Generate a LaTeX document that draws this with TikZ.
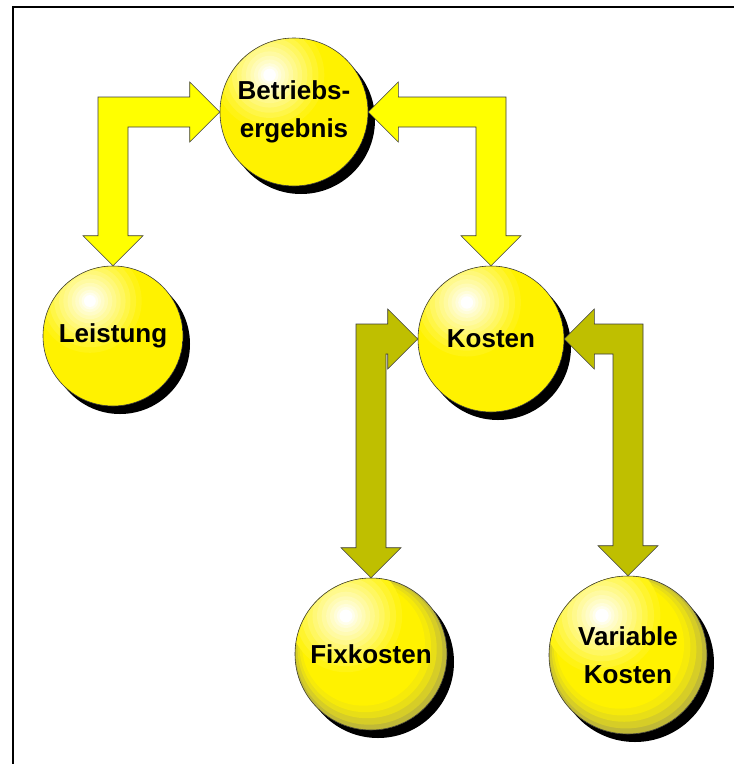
\documentclass[tikz,border=0pt]{standalone}
\usepackage{fontspec}
\setmainfont{Liberation Sans}
\usetikzlibrary{calc}

\definecolor{arrowyellow}{RGB}{255,255,0}
\definecolor{arrowolive}{RGB}{191,191,0}
\definecolor{edgegray}{RGB}{60,60,60}

% one ring of the light spot of the ball at #1 with radius #2:
% ring radius factor #3, yellow share #4
\newcommand\shinering[4]{%
  \fill[yellow!#4!white] ($(#1)+(-0.33*#2,-0.5*#2)$) circle ({#3*#2});%
}
% yellow ball body with a glossy light spot; #3=1 adds olive rim bands
\newcommand\ballbody[3]{%
  \begin{scope}
    \clip (#1) circle (#2);
    \fill[yellow] (#1) circle (#2);
    \ifnum#3=1
      \fill[yellow!72!black] (#1) circle ({1.02*#2});
      \fill[yellow!82!black] ($(#1)+(-0.025*#2,-0.035*#2)$) circle ({0.965*#2});
      \fill[yellow!90!black] ($(#1)+(-0.05*#2,-0.07*#2)$) circle ({0.915*#2});
      \fill[yellow!96!black] ($(#1)+(-0.075*#2,-0.10*#2)$) circle ({0.865*#2});
      \fill[yellow] ($(#1)+(-0.10*#2,-0.13*#2)$) circle ({0.81*#2});
    \fi
    \shinering{#1}{#2}{0.74}{92}\shinering{#1}{#2}{0.66}{82}%
    \shinering{#1}{#2}{0.58}{72}\shinering{#1}{#2}{0.51}{62}%
    \shinering{#1}{#2}{0.44}{53}\shinering{#1}{#2}{0.38}{45}%
    \shinering{#1}{#2}{0.32}{37}\shinering{#1}{#2}{0.26}{29}%
    \shinering{#1}{#2}{0.21}{22}\shinering{#1}{#2}{0.16}{15}%
    \shinering{#1}{#2}{0.12}{8}\shinering{#1}{#2}{0.085}{0}%
  \end{scope}%
}

\tikzset{
  ball/.style={circle, inner sep=0pt, minimum size=2*#1pt,
    draw=edgegray, line width=0.6pt, align=center,
    font=\bfseries\fontsize{26}{38}\selectfont},
  ballshadow/.style={fill=black},
  blockarrow/.style={fill=#1, draw=edgegray, line width=0.6pt, line join=miter},
}

\begin{document}
\begin{tikzpicture}[x=1pt,y=-1pt]
  \useasboundingbox (0,0) rectangle (734,764);
  \fill[white] (0,0) rectangle (734,764);
  % frame
  \draw[line width=2pt] (12.5,764) -- (12.5,7) -- (734,7);

  % ball centres
  \coordinate (bec) at (294,112);
  \coordinate (lec) at (113,336);
  \coordinate (koc) at (491,339);
  \coordinate (fkc) at (371,654);
  \coordinate (vkc) at (628,655);

  % cast shadows
  \fill[ballshadow] ($(bec)+(7,8)$) circle (74);
  \fill[ballshadow] ($(lec)+(7,8)$) circle (70);
  \fill[ballshadow] ($(koc)+(7,8)$) circle (73);
  \fill[ballshadow] ($(fkc)+(7,8)$) circle (76);
  \fill[ballshadow] ($(vkc)+(7,8)$) circle (79);

  % ball bodies
  \ballbody{bec}{74}{0}
  \ballbody{lec}{70}{0}
  \ballbody{koc}{73}{0}
  \ballbody{fkc}{76}{1}
  \ballbody{vkc}{79}{1}

  % balls with their labels
  \node[ball=74] (be) at (bec) {Betriebs-\\ergebnis};
  \node[ball=70] (le) at (lec) {Leistung};
  \node[ball=73] (ko) at (koc) {Kosten};
  \node[ball=76] (fk) at (fkc) {Fixkosten};
  \node[ball=79] (vk) at (vkc) {Variable\\Kosten};

  % Betriebsergebnis <-> Leistung
  \draw[blockarrow=arrowyellow]
    (be.west) -- ($(be.west)+(-30,30)$) -- ($(be.west)+(-30,15)$)
    -- ($(le.north|-be.west)+(15,15)$) -- ($(le.north)+(15,-30)$)
    -- ($(le.north)+(30,-30)$) -- (le.north) -- ($(le.north)+(-30,-30)$)
    -- ($(le.north)+(-15,-30)$) -- ($(le.north|-be.west)+(-15,-15)$)
    -- ($(be.west)+(-30,-15)$) -- ($(be.west)+(-30,-30)$) -- cycle;

  % Betriebsergebnis <-> Kosten
  \draw[blockarrow=arrowyellow]
    (be.east) -- ($(be.east)+(30,-30)$) -- ($(be.east)+(30,-15)$)
    -- ($(ko.north|-be.east)+(15,-15)$) -- ($(ko.north)+(15,-30)$)
    -- ($(ko.north)+(30,-30)$) -- (ko.north) -- ($(ko.north)+(-30,-30)$)
    -- ($(ko.north)+(-15,-30)$) -- ($(ko.north|-be.east)+(-15,15)$)
    -- ($(be.east)+(30,15)$) -- ($(be.east)+(30,30)$) -- cycle;

  % Kosten <-> Fixkosten
  \draw[blockarrow=arrowolive]
    (ko.west) -- ($(ko.west)+(-30,30)$) -- ($(ko.west)+(-30,15)$)
    -- ($(fk.north|-ko.west)+(15,15)$) -- ($(fk.north)+(15,-30)$)
    -- ($(fk.north)+(30,-30)$) -- (fk.north) -- ($(fk.north)+(-30,-30)$)
    -- ($(fk.north)+(-15,-30)$) -- ($(fk.north|-ko.west)+(-15,-15)$)
    -- ($(ko.west)+(-30,-15)$) -- ($(ko.west)+(-30,-30)$) -- cycle;

  % Kosten <-> Variable Kosten
  \draw[blockarrow=arrowolive]
    (ko.east) -- ($(ko.east)+(30,-30)$) -- ($(ko.east)+(30,-15)$)
    -- ($(vk.north|-ko.east)+(15,-15)$) -- ($(vk.north)+(15,-30)$)
    -- ($(vk.north)+(30,-30)$) -- (vk.north) -- ($(vk.north)+(-30,-30)$)
    -- ($(vk.north)+(-15,-30)$) -- ($(vk.north|-ko.east)+(-15,15)$)
    -- ($(ko.east)+(30,15)$) -- ($(ko.east)+(30,30)$) -- cycle;
\end{tikzpicture}
\end{document}
